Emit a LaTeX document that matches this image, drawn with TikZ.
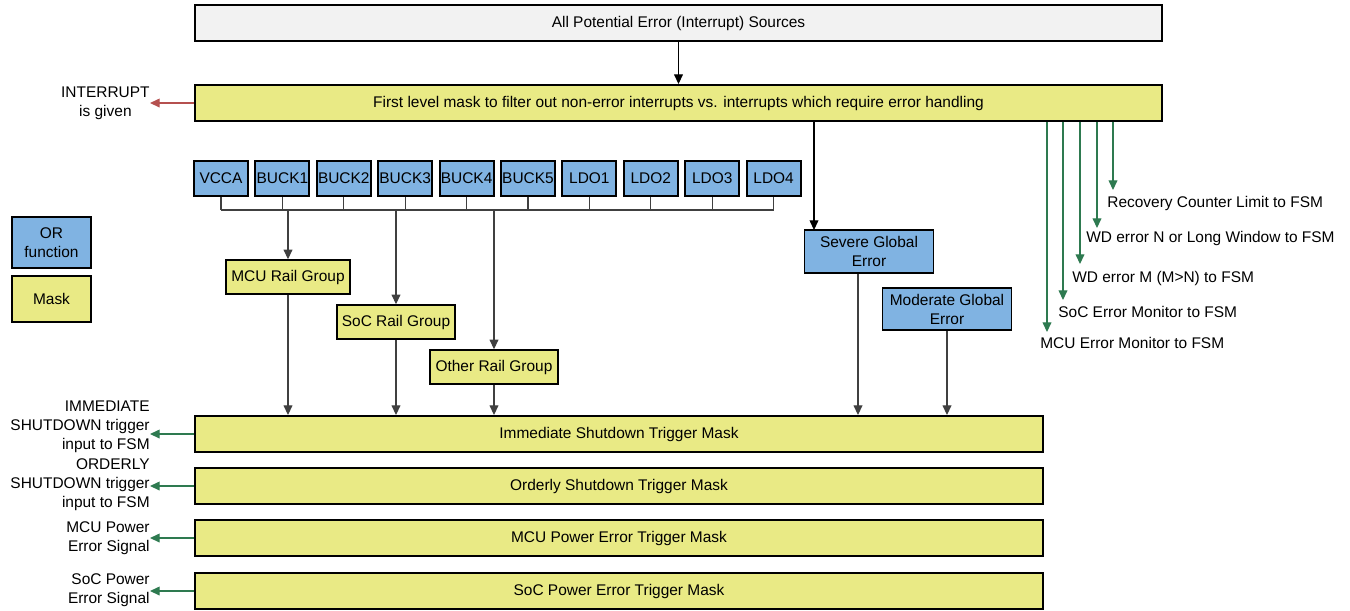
\documentclass[tikz,border=0pt]{standalone}
\usepackage{fontspec}
\setmainfont{Liberation Sans}
\usepackage{xcolor}
\usepackage{tikz}
\usetikzlibrary{arrows.meta,positioning,calc}
\definecolor{maskyellow}{HTML}{E9EA85}
\definecolor{orblue}{HTML}{80B3E2}
\definecolor{srcgray}{HTML}{F2F2F2}
\definecolor{sigred}{HTML}{B5504F}
\definecolor{siggreen}{HTML}{2E7A50}

\begin{document}
\begin{tikzpicture}[
    x=0.02cm, y=-0.02cm,
    >={Triangle[length=5.5pt,width=5pt]},
    font=\fontsize{8.8}{10.8}\selectfont,
    bar/.style={draw=black, line width=1.1pt, fill=maskyellow, minimum height=0.72cm, inner sep=0pt},
    src/.style={draw=black, line width=1.1pt, fill=orblue, minimum width=1.08cm, minimum height=0.7cm, inner sep=0.5pt},
    grp/.style={draw=black, line width=1.1pt, fill=maskyellow, minimum height=0.67cm, inner xsep=3pt},
    glob/.style={draw=black, line width=1.1pt, fill=orblue, align=center, minimum width=2.58cm, minimum height=0.85cm, inner sep=1pt},
    sig/.style={inner sep=0pt, align=right, anchor=east},
    fsm/.style={inner sep=0pt, anchor=west},
    wire/.style={black!75, line width=0.65pt},
    arr/.style={wire, ->},
    garr/.style={siggreen, line width=0.7pt, ->}
]
\useasboundingbox (0,0) rectangle (1350,610);

% top row
\node[bar, fill=srcgray, minimum width=19.34cm] (all) at (678.5,23) {All Potential Error (Interrupt) Sources};
\node[bar, minimum width=19.34cm] (first) at (678.5,103) {First level mask to filter out non-error interrupts vs. interrupts which require error handling};
\draw[arr, black] (all) -- (first);

\node[inner sep=0pt, align=center, anchor=east] (intr) at (150,103) {INTERRUPT\\is given};
\draw[sigred, line width=0.7pt, ->] (first.west) -- (intr.east);

% legend
\node[draw=black, line width=1.1pt, fill=orblue, align=center, minimum width=1.58cm, minimum height=1.02cm] (lgor) at (51.5,242.5) {OR\\function};
\node[draw=black, line width=1.1pt, fill=maskyellow, minimum width=1.58cm, minimum height=0.92cm] (lgmask) at (51.5,299) {Mask};

% rail sources and OR bus
\coordinate (bus) at (0,210);
\foreach \nm [count=\i] in {VCCA,BUCK1,BUCK2,BUCK3,BUCK4,BUCK5,LDO1,LDO2,LDO3,LDO4}{
  \node[src] (s\i) at ({221+61.4*(\i-1)},178.5) {\nm};
  \draw[wire] (s\i.south) -- (s\i.south |- bus);
}
\draw[wire] (s1.south |- bus) -- (s10.south |- bus);

% rail groups
\node[grp] (mcu) at (288,277) {MCU Rail Group};
\node[grp] (soc) at (396,322) {SoC Rail Group};
\node[grp] (oth) at (494,367) {Other Rail Group};
\draw[arr] (mcu.north |- bus) -- (mcu.north);
\draw[arr] (soc.north |- bus) -- (soc.north);
\draw[arr] (oth.north |- bus) -- (oth.north);

% global errors
\node[glob] (sev) at (869,251.5) {Severe Global\\Error};
\node[glob] (mod) at (947,309) {Moderate Global\\Error};
\coordinate (sevin) at (814,230);
\draw[arr, black] (first.south -| sevin) -- (sevin);

% trigger masks
\node[bar, minimum width=16.96cm] (imm) at (619,434) {Immediate Shutdown Trigger Mask};
\node[bar, minimum width=16.96cm] (ord) at (619,486) {Orderly Shutdown Trigger Mask};
\node[bar, minimum width=16.96cm] (mpe) at (619,538) {MCU Power Error Trigger Mask};
\node[bar, minimum width=16.96cm] (spe) at (619,591) {SoC Power Error Trigger Mask};

\draw[arr] (mcu) -- (mcu |- imm.north);
\draw[arr] (soc) -- (soc |- imm.north);
\draw[arr] (oth) -- (oth |- imm.north);
\draw[arr] ($(sev.south)+(-11,0)$) -- ($(sev.south |- imm.north)+(-11,0)$);
\draw[arr] (mod) -- (mod |- imm.north);

% outputs on the left
\node[sig] (immo) at (150,426.5) {IMMEDIATE\\SHUTDOWN trigger\\input to FSM};
\node[sig] (ordo) at (150,485) {ORDERLY\\SHUTDOWN trigger\\input to FSM};
\node[sig] (mpeo) at (150,538.5) {MCU Power\\Error Signal};
\node[sig] (speo) at (150,590.5) {SoC Power\\Error Signal};
\draw[garr] (imm.west) -- (imm.west -| immo.east);
\draw[garr] (ord.west) -- (ord.west -| ordo.east);
\draw[garr] (mpe.west) -- (mpe.west -| mpeo.east);
\draw[garr] (spe.west) -- (spe.west -| speo.east);

% outputs to FSM
\coordinate (t1) at (1047,332);
\coordinate (t2) at (1063,300);
\coordinate (t3) at (1080,264);
\coordinate (t4) at (1097,228);
\coordinate (t5) at (1113,190);
\foreach \i in {1,...,5}
  \draw[garr] (first.south -| t\i) -- (t\i);
\node[fsm] (f1) at (1040,343) {MCU Error Monitor to FSM};
\node[fsm] (f2) at (1058,312) {SoC Error Monitor to FSM};
\node[fsm] (f3) at (1072,278) {WD error M (M>N) to FSM};
\node[fsm] (f4) at (1086,238) {WD error N or Long Window to FSM};
\node[fsm] (f5) at (1107,203) {Recovery Counter Limit to FSM};
\end{tikzpicture}
\end{document}
